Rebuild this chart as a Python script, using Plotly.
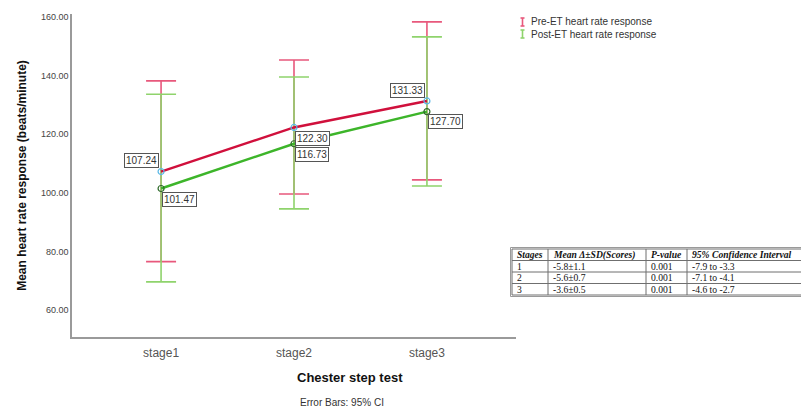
import plotly.graph_objects as go

# Chester step test stages
stages = ["stage1", "stage2", "stage3"]

# Pre-ET heart rate response: mean and 95% CI limits
pre_mean = [107.24, 122.30, 131.33]
pre_low = [76.5, 99.6, 104.4]
pre_high = [138.2, 145.3, 158.3]

# Post-ET heart rate response: mean and 95% CI limits
post_mean = [101.47, 116.73, 127.70]
post_low = [69.6, 94.5, 102.3]
post_high = [133.6, 139.5, 153.2]

y_ticks = [60, 80, 100, 120, 140, 160]

series_names = ["Pre-ET heart rate response", "Post-ET heart rate response"]

# Summary table
tbl_header = ["Stages", "Mean \u0394\u00b1SD(Scores)", "P-value", "95% Confidence Interval"]
tbl_stage = ["1", "2", "3"]
tbl_delta = ["-5.8\u00b11.1", "-5.6\u00b10.7", "-3.6\u00b10.5"]
tbl_p = ["0.001", "0.001", "0.001"]
tbl_ci = ["-7.9 to -3.3", "-7.1 to -4.1", "-4.6 to -2.7"]

SANS = "Liberation Sans, Arial, sans-serif"
SERIF = "Liberation Serif, Times New Roman, serif"

PRE_LINE = "#d0103c"
PRE_BAR = "#e8587c"
POST_LINE = "#3db52a"
POST_BAR = "#8fd36c"

# page geometry (pixels) used to place paper-anchored items
W, H = 801, 407
ML, MR, MT, MB = 72, 0, 14, 70
PW, PH = W - ML - MR, H - MT - MB


def px(x):
    return (x - ML) / PW


def py(y):
    return (H - MB - y) / PH


fig = go.Figure()


def err(mean, low, high):
    plus = [h - m for m, h in zip(mean, high)]
    minus = [m - l for m, l in zip(mean, low)]
    return plus, minus


pre_plus, pre_minus = err(pre_mean, pre_low, pre_high)
post_plus, post_minus = err(post_mean, post_low, post_high)

# error bars first so the mean lines sit on top
fig.add_trace(go.Scatter(
    x=stages, y=pre_mean, mode="markers",
    marker=dict(size=1, color="rgba(0,0,0,0)"),
    error_y=dict(type="data", array=pre_plus, arrayminus=pre_minus,
                 color=PRE_BAR, thickness=1.6, width=15),
    showlegend=False, hoverinfo="skip"))
fig.add_trace(go.Scatter(
    x=stages, y=post_mean, mode="markers",
    marker=dict(size=1, color="rgba(0,0,0,0)"),
    error_y=dict(type="data", array=post_plus, arrayminus=post_minus,
                 color=POST_BAR, thickness=1.6, width=15),
    showlegend=False, hoverinfo="skip"))

fig.add_trace(go.Scatter(
    x=stages, y=post_mean, mode="lines+markers", name=series_names[1],
    line=dict(color=POST_LINE, width=2.5),
    marker=dict(symbol="circle-open", size=6, color="#2e6b2a", line=dict(width=1.2)),
    showlegend=False))
fig.add_trace(go.Scatter(
    x=stages, y=pre_mean, mode="lines+markers", name=series_names[0],
    line=dict(color=PRE_LINE, width=2.5),
    marker=dict(symbol="circle-open", size=6, color="#5bb8e6", line=dict(width=1.2)),
    showlegend=False))

# value labels in boxes
pre_shift = [(-20, 11), (18, -11), (-19, 10)]
post_shift = [(18, -11), (18, -11), (19, -10)]
for s, v, (dx, dy) in zip(stages, pre_mean, pre_shift):
    fig.add_annotation(x=s, y=v, text=f"{v:.2f}", showarrow=False, xshift=dx, yshift=dy,
                       font=dict(family=SANS, size=10, color="#333"),
                       bgcolor="white", bordercolor="#555", borderwidth=1, borderpad=1)
for s, v, (dx, dy) in zip(stages, post_mean, post_shift):
    fig.add_annotation(x=s, y=v, text=f"{v:.2f}", showarrow=False, xshift=dx, yshift=dy,
                       font=dict(family=SANS, size=10, color="#333"),
                       bgcolor="white", bordercolor="#555", borderwidth=1, borderpad=1)

# legend: small error-bar glyph plus series name
for i, (name, col) in enumerate(zip(series_names, [PRE_BAR, POST_BAR])):
    yy = 22 + 12 * i
    glyph = dict(color=col, width=1.6)
    fig.add_shape(type="line", xref="paper", yref="paper",
                  x0=px(522.5), x1=px(522.5), y0=py(yy - 4), y1=py(yy + 4), line=glyph)
    for yc in (yy - 4, yy + 4):
        fig.add_shape(type="line", xref="paper", yref="paper",
                      x0=px(520.5), x1=px(524.5), y0=py(yc), y1=py(yc), line=glyph)
    fig.add_annotation(xref="paper", yref="paper", x=px(529), y=py(yy),
                       xanchor="left", yanchor="middle", showarrow=False,
                       text=name, font=dict(family=SANS, size=10, color="#333"))

# axis caption and footnote
fig.add_annotation(xref="paper", yref="paper", x=px(295), y=py(378), yanchor="middle",
                   text="<b>Chester step test</b>", showarrow=False,
                   font=dict(family=SANS, size=13, color="#111"))
fig.add_annotation(xref="paper", yref="paper", x=px(342), y=py(402), yanchor="middle",
                   text="Error Bars: 95% CI", showarrow=False,
                   font=dict(family=SANS, size=10, color="#333"))

# summary table drawn as ruled grid with text cells
col_edges = [512, 548, 646, 687, 802]
row_edges = [249, 260.5, 272, 283.5, 295]
grid = dict(color="#6f6f6f", width=1)
for xe in col_edges:
    fig.add_shape(type="line", xref="paper", yref="paper",
                  x0=px(xe), x1=px(xe), y0=py(row_edges[0]), y1=py(row_edges[-1]), line=grid)
for ye in row_edges:
    fig.add_shape(type="line", xref="paper", yref="paper",
                  x0=px(col_edges[0]), x1=px(col_edges[-1]), y0=py(ye), y1=py(ye), line=grid)
# doubled outer rule
fig.add_shape(type="rect", xref="paper", yref="paper",
              x0=px(col_edges[0] - 1.5), x1=px(col_edges[-1] + 1.5),
              y0=py(row_edges[0] - 1.5), y1=py(row_edges[-1] + 1.5),
              line=dict(color="#9a9a9a", width=1))

rows = [[f"<b><i>{h}</i></b>" for h in tbl_header]] + [
    list(r) for r in zip(tbl_stage, tbl_delta, tbl_p, tbl_ci)]
for r, row in enumerate(rows):
    yc = (row_edges[r] + row_edges[r + 1]) / 2
    for c, txt in enumerate(row):
        fig.add_annotation(xref="paper", yref="paper", x=px(col_edges[c] + 2.5), y=py(yc),
                           xanchor="left", yanchor="middle", showarrow=False,
                           text=txt, font=dict(family=SERIF, size=9.6, color="#111"))

fig.update_layout(
    width=W, height=H,
    margin=dict(l=ML, r=MR, t=MT, b=MB),
    paper_bgcolor="white", plot_bgcolor="white",
    font=dict(family=SANS, color="#333"),
    showlegend=False,
    xaxis=dict(domain=[0, px(516)], range=[-0.67, 2.67],
               showline=True, linecolor="#9a9a9a", linewidth=1.5,
               showgrid=False, zeroline=False, ticks="", ticklabelstandoff=4,
               tickfont=dict(family=SANS, size=12, color="#555")),
    yaxis=dict(range=[50.8, 161], showline=True, linecolor="#9a9a9a", linewidth=1.5,
               showgrid=False, zeroline=False, ticks="",
               tickvals=y_ticks, tickformat=".2f",
               tickfont=dict(family=SANS, size=9, color="#444"),
               title=dict(text="<b>Mean heart rate response (beats/minute)</b>",
                          font=dict(family=SANS, size=12, color="#111"), standoff=12)),
)

fig.write_html("out.html")
